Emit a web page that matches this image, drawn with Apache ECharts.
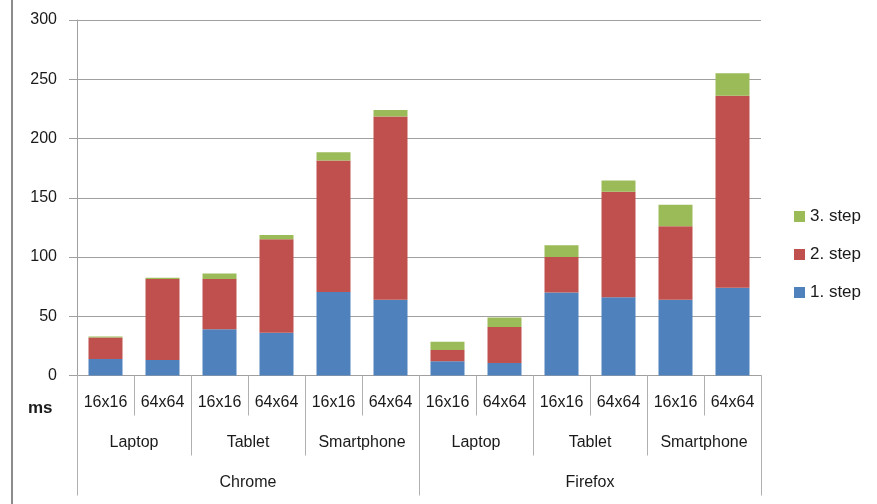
<!DOCTYPE html>
<html>
<head>
<meta charset="utf-8">
<script src="https://cdn.jsdelivr.net/npm/echarts@6/dist/echarts.min.js"></script>
<style>
html,body{margin:0;padding:0;background:#fff;}
#chart{width:877px;height:504px;}
</style>
</head>
<body>
<div id="chart"></div>
<script>
const sizes = ['16x16','64x64','16x16','64x64','16x16','64x64','16x16','64x64','16x16','64x64','16x16','64x64'];
const devices = ['Laptop','Tablet','Smartphone','Laptop','Tablet','Smartphone'];
const browsers = ['Chrome','Firefox'];
const yTicks = [0,50,100,150,200,250,300];
const step1 = [14, 13, 39, 36, 70.5, 64, 12, 10.5, 70, 66, 64, 74];
const step2 = [18, 68.5, 42.5, 79, 111, 154.5, 9.5, 30.5, 30, 89, 62, 162];
const step3 = [1, 1, 4.5, 3.5, 7, 5.5, 7, 8, 10, 9.5, 18, 19];
const seriesNames = ['1. step','2. step','3. step'];
const colors = ['#4F81BD','#C0504D','#9BBB59'];

const FONT = 'Liberation Sans';
const chart = echarts.init(document.getElementById('chart'));
const gridLineColor = '#a0a0a0';

function catAxis(data, tickLen, margin) {
  return {
    type: 'category',
    data: data,
    position: 'bottom',
    boundaryGap: true,
    axisLine: { show: tickLen === 40, lineStyle: { color: gridLineColor, width: 1 } },
    axisTick: { show: true, length: tickLen, interval: 0, lineStyle: { color: '#b0b0b0', width: 1 } },
    axisLabel: { interval: 0, margin: margin, color: '#1a1a1a', fontFamily: FONT, fontSize: 16 },
    splitLine: { show: false }
  };
}

chart.setOption({
  animation: false,
  backgroundColor: '#ffffff',
  color: colors,
  grid: { left: 77, right: 116, top: 20, bottom: 128.5, containLabel: false },
  legend: {
    orient: 'vertical',
    left: 794,
    top: 208,
    padding: 0,
    itemWidth: 11,
    itemHeight: 11,
    itemGap: 21,
    icon: 'rect',
    data: ['3. step','2. step','1. step'],
    textStyle: { fontFamily: FONT, fontSize: 17, color: '#1a1a1a' }
  },
  xAxis: [
    catAxis(sizes, 40, 19),
    catAxis(devices, 80, 59),
    catAxis(browsers, 120, 99)
  ],
  yAxis: {
    type: 'value',
    min: yTicks[0],
    max: yTicks[yTicks.length - 1],
    interval: 50,
    axisLine: { show: true, lineStyle: { color: gridLineColor, width: 1 } },
    axisTick: { show: true, length: 8, lineStyle: { color: gridLineColor } },
    axisLabel: { margin: 20, color: '#1a1a1a', fontFamily: FONT, fontSize: 16 },
    splitLine: { show: true, lineStyle: { color: gridLineColor, width: 1 } }
  },
  series: [
    { name: seriesNames[0], type: 'bar', stack: 'total', data: step1, barWidth: 34, xAxisIndex: 0 },
    { name: seriesNames[1], type: 'bar', stack: 'total', data: step2, barWidth: 34, xAxisIndex: 0 },
    { name: seriesNames[2], type: 'bar', stack: 'total', data: step3, barWidth: 34, xAxisIndex: 0 }
  ],
  graphic: [
    { type: 'rect', shape: { x: 11, y: 0, width: 2, height: 504 }, style: { fill: '#8c8c8c' }, silent: true },
    { type: 'text', left: 28, top: 400, style: { text: 'ms', fontFamily: FONT, fontSize: 17, fontWeight: 'bold', fill: '#1a1a1a' } }
  ]
});
</script>
</body>
</html>
